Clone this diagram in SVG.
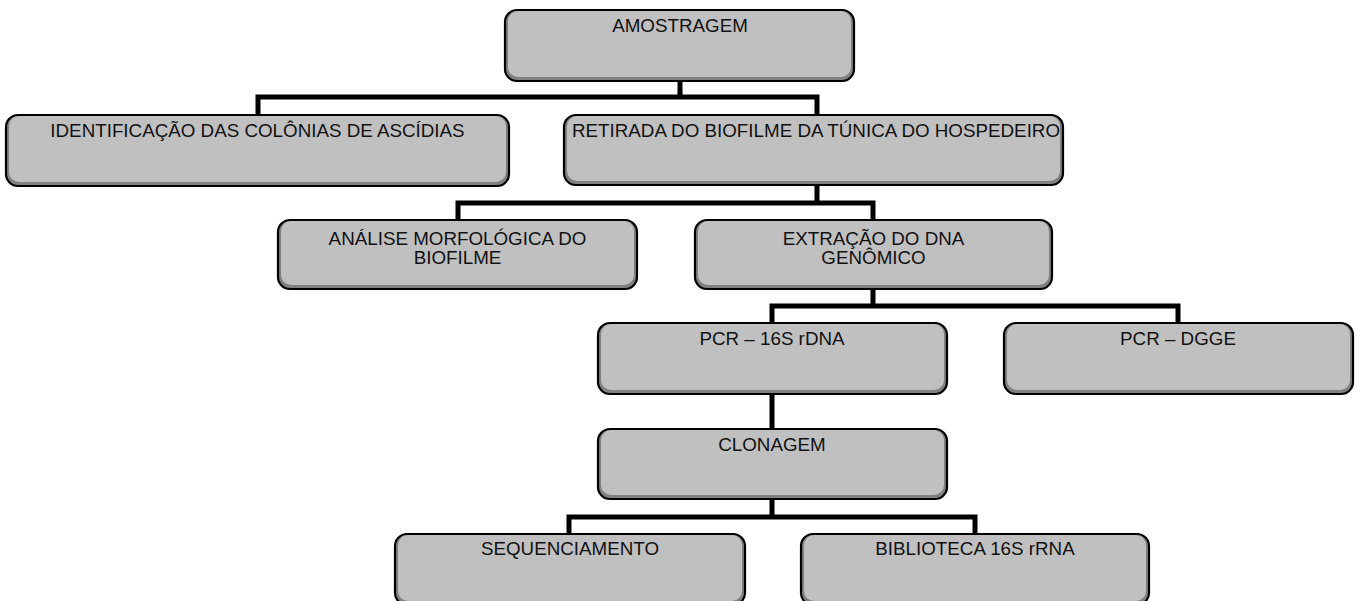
<svg xmlns="http://www.w3.org/2000/svg" width="1357" height="601" viewBox="0 0 1357 601">
<style>
.o{fill:#808080;stroke:#000;stroke-width:2.2}
.i{fill:#c0c0c0;stroke:none}
.t{font-family:"Liberation Sans",Arial,sans-serif;font-size:18.8px;fill:#111;text-anchor:middle}
.c{fill:none;stroke:#000;stroke-width:5;stroke-linejoin:miter;stroke-linecap:butt}
</style>
<rect width="1357" height="601" fill="#fff"/>
<g id="connectors">
<path class="c" d="M680,81 V97 M258,115 V97 H817 V115"/>
<path class="c" d="M817,185 V203 M458,220 V203 H873 V220"/>
<path class="c" d="M873,289 V306 M772,323 V306 H1178 V323"/>
<path class="c" d="M772,394 V429"/>
<path class="c" d="M772,499 V517 M569,534 V517 H975 V534"/>
</g>
<g id="amostragem">
<rect class="o" x="505" y="10" width="349" height="71" rx="12"/>
<rect class="i" x="508" y="11" width="343" height="66" rx="10"/>
<text class="t" x="680" y="32">AMOSTRAGEM</text>
</g>
<g id="identificacao">
<rect class="o" x="6" y="115" width="503" height="71" rx="12"/>
<rect class="i" x="9" y="116" width="497" height="66" rx="10"/>
<text class="t" x="257.5" y="137">IDENTIFICAÇÃO DAS COLÔNIAS DE ASCÍDIAS</text>
</g>
<g id="retirada">
<rect class="o" x="564" y="115" width="499" height="70" rx="12"/>
<rect class="i" x="567" y="116" width="493" height="65" rx="10"/>
<text class="t" x="816" y="137">RETIRADA DO BIOFILME DA TÚNICA DO HOSPEDEIRO</text>
</g>
<g id="analise">
<rect class="o" x="278" y="220" width="359" height="69" rx="12"/>
<rect class="i" x="281" y="221" width="353" height="64" rx="10"/>
<text class="t" x="457.5" y="245">ANÁLISE MORFOLÓGICA DO</text>
<text class="t" x="457.5" y="264">BIOFILME</text>
</g>
<g id="extracao">
<rect class="o" x="695" y="220" width="357" height="69" rx="12"/>
<rect class="i" x="698" y="221" width="351" height="64" rx="10"/>
<text class="t" x="873.5" y="245">EXTRAÇÃO DO DNA</text>
<text class="t" x="873.5" y="264">GENÔMICO</text>
</g>
<g id="pcr16s">
<rect class="o" x="598" y="323" width="349" height="71" rx="12"/>
<rect class="i" x="601" y="324" width="343" height="66" rx="10"/>
<text class="t" x="772" y="345">PCR – 16S rDNA</text>
</g>
<g id="pcrdgge">
<rect class="o" x="1004" y="323" width="349" height="71" rx="12"/>
<rect class="i" x="1007" y="324" width="343" height="66" rx="10"/>
<text class="t" x="1178" y="345">PCR – DGGE</text>
</g>
<g id="clonagem">
<rect class="o" x="598" y="429" width="349" height="70" rx="12"/>
<rect class="i" x="601" y="430" width="343" height="65" rx="10"/>
<text class="t" x="772" y="451">CLONAGEM</text>
</g>
<g id="sequenciamento">
<rect class="o" x="395" y="534" width="350" height="71" rx="12"/>
<rect class="i" x="398" y="535" width="344" height="66" rx="10"/>
<text class="t" x="570" y="555">SEQUENCIAMENTO</text>
</g>
<g id="biblioteca">
<rect class="o" x="801" y="534" width="348" height="71" rx="12"/>
<rect class="i" x="804" y="535" width="342" height="66" rx="10"/>
<text class="t" x="975" y="555">BIBLIOTECA 16S rRNA</text>
</g>
</svg>
